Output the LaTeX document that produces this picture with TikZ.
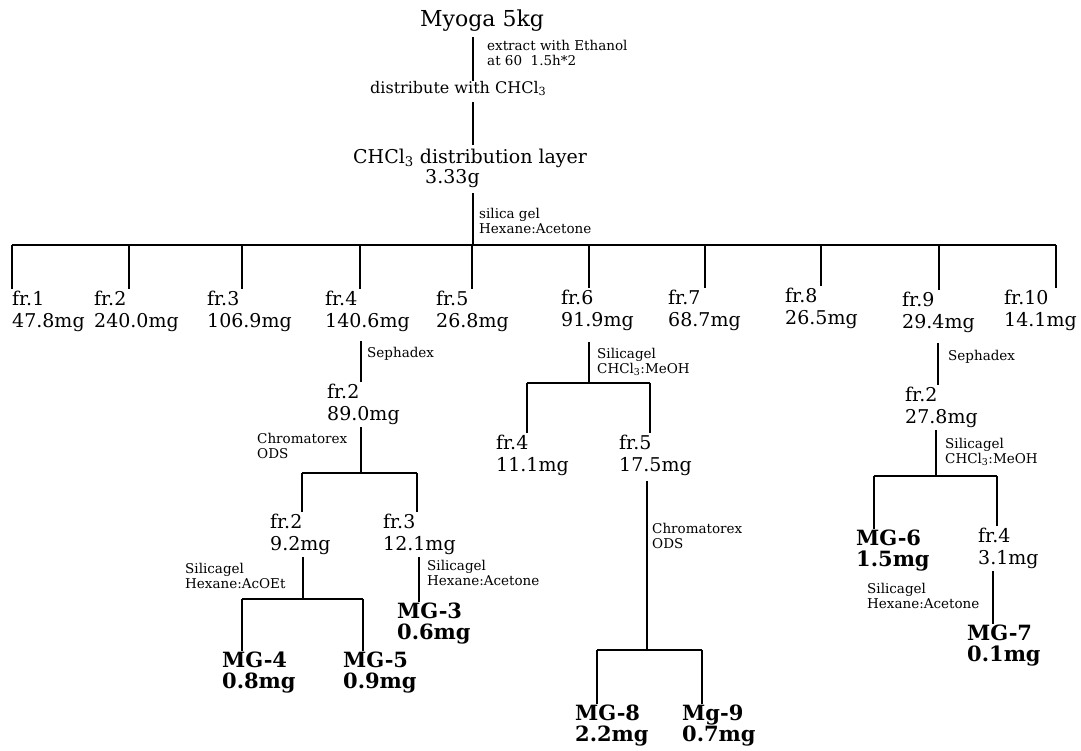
\documentclass[tikz,border=0pt]{standalone}
\usepackage{fontspec}
\setmainfont{DejaVu Serif}
\newcommand{\twoln}[2]{\begin{tabular}[t]{@{}l@{}}#1\\#2\end{tabular}}
\tikzset{
  txt/.style={anchor=base west, inner sep=0pt, font=\fontsize{19}{22}\selectfont},
  big/.style={anchor=base west, inner sep=0pt, font=\fontsize{22}{24}\selectfont},
  mid/.style={anchor=base west, inner sep=0pt, font=\fontsize{16}{18}\selectfont},
  note/.style={anchor=base west, inner sep=0pt, font=\fontsize{13.5}{15}\selectfont},
  prod/.style={anchor=base west, inner sep=0pt, font=\fontsize{21}{21}\selectfont\bfseries},
  link/.style={line width=1.3pt},
}
\begin{document}
\begin{tikzpicture}[x=1pt,y=-1pt]
\useasboundingbox (0,0) rectangle (1081,750);
% top chain
\node[big] (myoga) at (420,26) {Myoga 5kg};
\node[note] (n1) at (487,50) {\twoln{extract with Ethanol}{at 60\ \ 1.5h*2}};
\node[mid] (dist) at (370,93) {distribute with CHCl\textsubscript{3}};
\node[txt] (layer) at (353,163) {CHCl\textsubscript{3} distribution layer};
\node[txt] (layerm) at (425,183) {3.33g};
\node[note] (n2) at (479,218) {\twoln{silica gel}{Hexane:Acetone}};
\coordinate (spine) at (473,0);
\draw[link, shorten <=6pt] (spine |- myoga.south) -- (spine |- dist.north);
\draw[link, shorten <=6pt, shorten >=3pt] (spine |- dist.south) -- (spine |- layer.north);
\draw[link, shorten <=6pt] (spine |- layerm.south) -- (spine |- 0,245);
% main bar and fractions
\coordinate (barL) at (12,245);
\coordinate (barR) at (1056,245);
\draw[link] (barL) -- (barR);
\node[txt] (fr1) at (12,305) {\twoln{fr.1}{47.8mg}};
\node[txt] (fr2) at (94,305) {\twoln{fr.2}{240.0mg}};
\node[txt] (fr3) at (207,305) {\twoln{fr.3}{106.9mg}};
\node[txt] (fr4) at (325,305) {\twoln{fr.4}{140.6mg}};
\node[txt] (fr5) at (436,305) {\twoln{fr.5}{26.8mg}};
\node[txt] (fr6) at (561,304) {\twoln{fr.6}{91.9mg}};
\node[txt] (fr7) at (668,304) {\twoln{fr.7}{68.7mg}};
\node[txt] (fr8) at (785,302) {\twoln{fr.8}{26.5mg}};
\node[txt] (fr9) at (902,306) {\twoln{fr.9}{29.4mg}};
\node[txt] (fr10) at (1004,304) {\twoln{fr.10}{14.1mg}};
\foreach \n/\x in {1/12,2/129,3/242,4/360,5/472,6/589,7/705,8/821,9/939,10/1056}{
  \coordinate (d\n) at (\x,245);
  \draw[link] (d\n) -- (d\n |- fr\n.north);
}
% fr.4 branch
\coordinate (s4) at (361,0);
\node[txt] (f4a) at (327,398) {\twoln{fr.2}{89.0mg}};
\node[note] (n3) at (367,357) {Sephadex};
\draw[link, shorten <=7pt] (s4 |- fr4.south) -- (s4 |- f4a.north);
\coordinate (b4L) at (302,473);
\coordinate (b4R) at (417,473);
\draw[link] (s4 |- f4a.south) -- (s4 |- b4L);
\draw[link] (b4L) -- (b4R);
\node[note] (n4) at (257,443) {\twoln{Chromatorex}{ODS}};
\node[txt] (f4b) at (270,528) {\twoln{fr.2}{9.2mg}};
\node[txt] (f4c) at (383,528) {\twoln{fr.3}{12.1mg}};
\draw[link] (b4L) -- (b4L |- f4b.north);
\draw[link] (b4R) -- (b4R |- f4c.north);
\coordinate (s4b) at (303,0);
\coordinate (b5L) at (242,599);
\coordinate (b5R) at (363,599);
\draw[link] (s4b |- f4b.south) -- (s4b |- b5L);
\draw[link] (b5L) -- (b5R);
\node[note] (n5) at (185,573) {\twoln{Silicagel}{Hexane:AcOEt}};
\node[prod] (mg4) at (222,667) {\twoln{MG-4}{0.8mg}};
\node[prod] (mg5) at (343,667) {\twoln{MG-5}{0.9mg}};
\draw[link] (b5L) -- (b5L |- mg4.north);
\draw[link] (b5R) -- (b5R |- mg5.north);
\coordinate (s4c) at (419,0);
\node[prod] (mg3) at (397,618) {\twoln{MG-3}{0.6mg}};
\node[note] (n6) at (427,570) {\twoln{Silicagel}{Hexane:Acetone}};
\draw[link] (s4c |- f4c.south) -- (s4c |- mg3.north);
% fr.6 branch
\coordinate (s6) at (589,0);
\coordinate (b6L) at (527,383);
\coordinate (b6R) at (650,383);
\draw[link, shorten <=9pt] (s6 |- fr6.south) -- (s6 |- b6L);
\draw[link] (b6L) -- (b6R);
\node[note] (n7) at (597,358) {\twoln{Silicagel}{CHCl\textsubscript{3}:MeOH}};
\node[txt] (f6a) at (496,449) {\twoln{fr.4}{11.1mg}};
\node[txt] (f6b) at (619,449) {\twoln{fr.5}{17.5mg}};
\draw[link] (b6L) -- (b6L |- f6a.north);
\draw[link] (b6R) -- (b6R |- f6b.north);
\coordinate (s6b) at (647,0);
\coordinate (b7L) at (597,650);
\coordinate (b7R) at (702,650);
\draw[link, shorten <=3pt] (s6b |- f6b.south) -- (s6b |- b7L);
\draw[link] (b7L) -- (b7R);
\node[note] (n8) at (652,533) {\twoln{Chromatorex}{ODS}};
\node[prod] (mg8) at (575,720) {\twoln{MG-8}{2.2mg}};
\node[prod] (mg9) at (682,720) {\twoln{Mg-9}{0.7mg}};
\draw[link] (b7L) -- (b7L |- mg8.north);
\draw[link] (b7R) -- (b7R |- mg9.north);
% fr.9 branch
\coordinate (s9) at (938,0);
\node[txt] (f9a) at (905,401) {\twoln{fr.2}{27.8mg}};
\node[note] (n9) at (948,360) {Sephadex};
\draw[link, shorten <=8pt] (s9 |- fr9.south) -- (s9 |- f9a.north);
\coordinate (s9b) at (936,0);
\coordinate (b9L) at (874,476);
\coordinate (b9R) at (997,476);
\draw[link] (s9b |- f9a.south) -- (s9b |- b9L);
\draw[link] (b9L) -- (b9R);
\node[note] (n10) at (945,448) {\twoln{Silicagel}{CHCl\textsubscript{3}:MeOH}};
\node[prod] (mg6) at (856,545) {\twoln{MG-6}{1.5mg}};
\node[txt] (f9b) at (978,542) {\twoln{fr.4}{3.1mg}};
\draw[link] (b9L) -- (b9L |- mg6.north);
\draw[link] (b9R) -- (b9R |- f9b.north);
\coordinate (s9c) at (993,0);
\node[note] (n11) at (867,593) {\twoln{Silicagel}{Hexane:Acetone}};
\node[prod] (mg7) at (967,640) {\twoln{MG-7}{0.1mg}};
\draw[link] (s9c |- f9b.south) -- (s9c |- mg7.north);
\end{tikzpicture}
\end{document}
